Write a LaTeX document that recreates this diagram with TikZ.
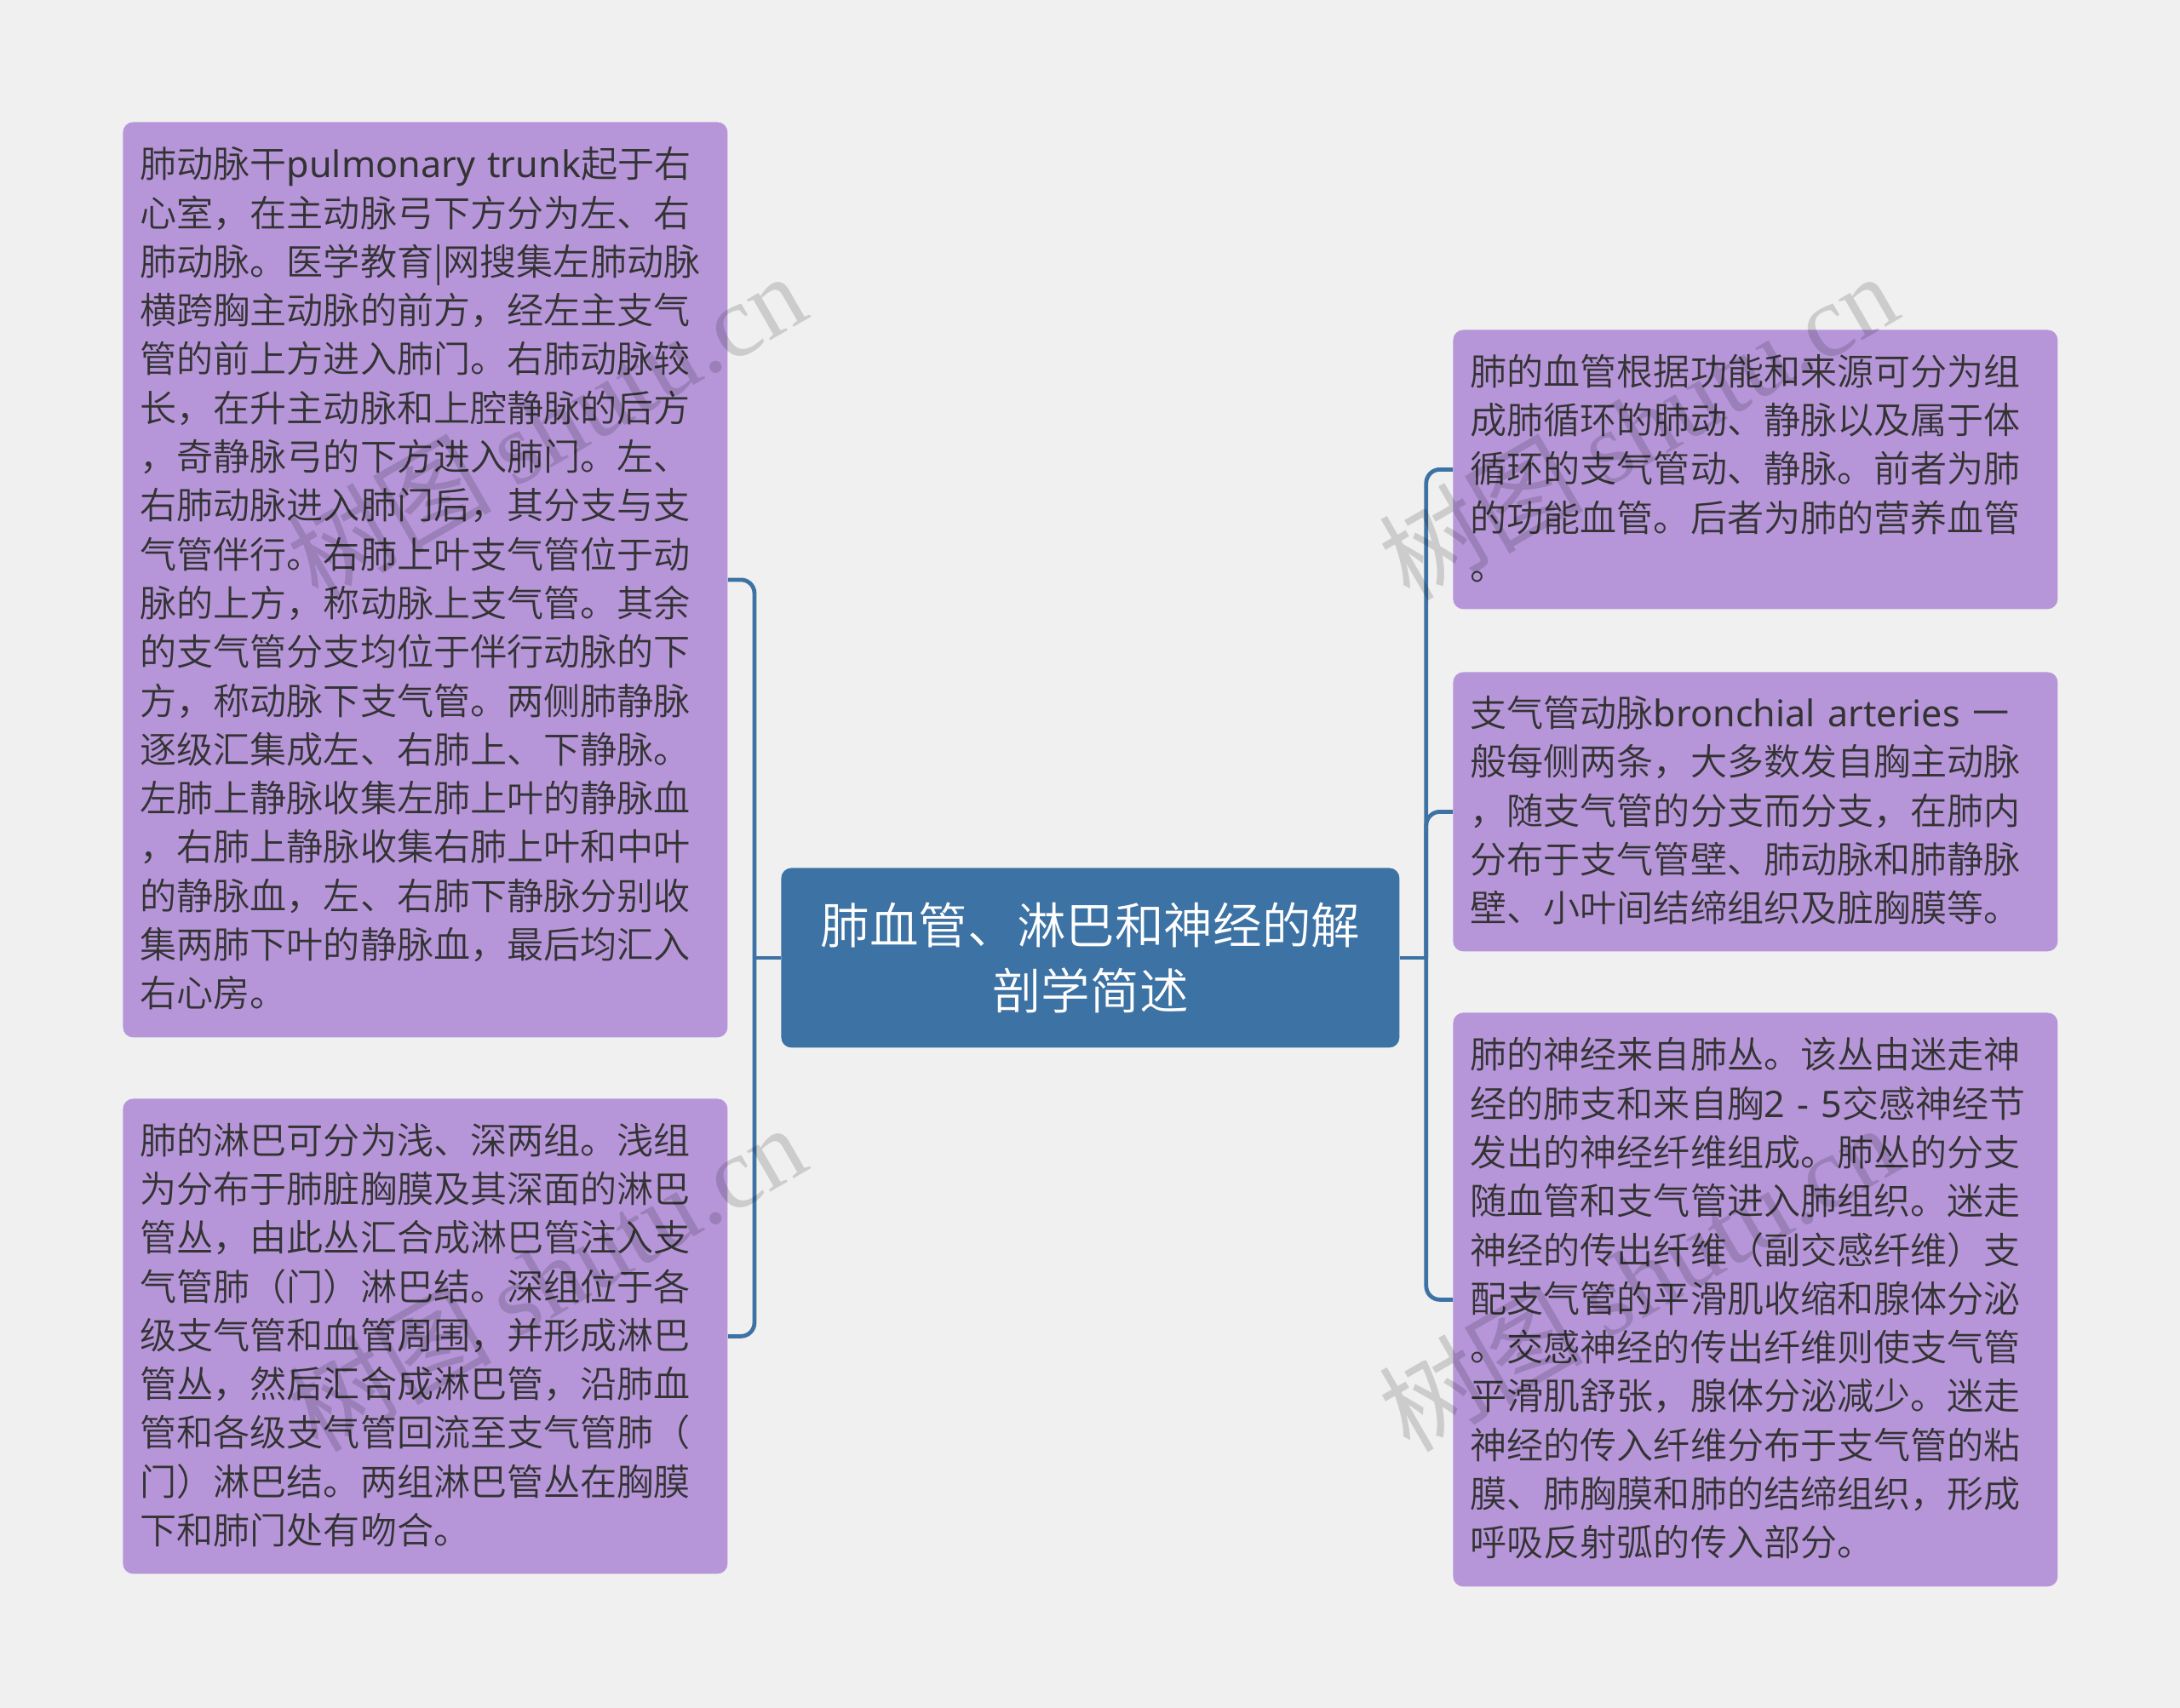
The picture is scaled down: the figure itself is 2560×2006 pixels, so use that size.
\documentclass[tikz,border=0pt]{standalone}
\usepackage{fontspec}
\setmainfont{Noto Sans CJK SC}[UprightFont={* DemiLight},BoldFont={*}]
\newfontfamily\wmfont{Noto Sans CJK SC}
\newfontfamily\wmlatin{Liberation Serif}
\newfontfamily\latf{Noto Sans}
\definecolor{bgc}{HTML}{F0F0F0}
\definecolor{leafc}{HTML}{B696D9}
\definecolor{rootc}{HTML}{3D72A4}
\definecolor{inkc}{HTML}{333333}
\tikzset{
  leaf/.style={draw=none,fill=leafc,rounded corners=6pt,anchor=north west,inner xsep=10pt,inner ysep=0pt,
    minimum width=#1*0.5pt,align=left,text width=#1*0.5pt-20pt,text=inkc,
    execute at end node={\par\vspace{1.5pt}},
    font=\fontsize{21.55pt}{28.65pt}\selectfont},
  rootbox/.style={draw=none,fill=rootc,rounded corners=6pt,anchor=north west,inner sep=0pt,
    minimum width=363pt,minimum height=105.5pt,align=center,text=white,
    font=\fontsize{28.8pt}{38.4pt}\selectfont},
  conn/.style={draw=rootc,line width=2.4pt,rounded corners=8pt},
  wm/.style={rotate=30,anchor=south west,text=black,opacity=0.15,font=\wmfont\fontsize{60pt}{60pt}\selectfont}
}
\begin{document}
\begin{tikzpicture}[x=0.5pt,y=-0.5pt]
\useasboundingbox (0,0) rectangle (2560,2006);
\fill[bgc] (0,0) rectangle (2560,2006);
\node[rootbox] (root) at (917,1019) {肺血管、淋巴和神经的解\\剖学简述};
\node[leaf=710,minimum height=537.5pt] (l1) at (144,143) {肺动脉干{\latf pulmonary trunk}起于右\\心室，在主动脉弓下方分为左、右\\肺动脉。医学教育|网搜集左肺动脉\\横跨胸主动脉的前方，经左主支气\\管的前上方进入肺门。右肺动脉较\\长，在升主动脉和上腔静脉的后方\\，奇静脉弓的下方进入肺门。左、\\右肺动脉进入肺门后，其分支与支\\气管伴行。右肺上叶支气管位于动\\脉的上方，称动脉上支气管。其余\\的支气管分支均位于伴行动脉的下\\方，称动脉下支气管。两侧肺静脉\\逐级汇集成左、右肺上、下静脉。\\左肺上静脉收集左肺上叶的静脉血\\，右肺上静脉收集右肺上叶和中叶\\的静脉血，左、右肺下静脉分别收\\集两肺下叶的静脉血，最后均汇入\\右心房。};
\node[leaf=710,minimum height=279pt] (l2) at (144,1290) {肺的淋巴可分为浅、深两组。浅组\\为分布于肺脏胸膜及其深面的淋巴\\管丛，由此丛汇合成淋巴管注入支\\气管肺（门）淋巴结。深组位于各\\级支气管和血管周围，并形成淋巴\\管丛，然后汇合成淋巴管，沿肺血\\管和各级支气管回流至支气管肺（\\门）淋巴结。两组淋巴管丛在胸膜\\下和肺门处有吻合。};
\node[leaf=710,minimum height=164pt] (r1) at (1706,387) {肺的血管根据功能和来源可分为组\\成肺循环的肺动、静脉以及属于体\\循环的支气管动、静脉。前者为肺\\的功能血管。后者为肺的营养血管\\。};
\node[leaf=710,minimum height=164pt] (r2) at (1706,789) {支气管动脉{\latf bronchial arteries }一\\般每侧两条，大多数发自胸主动脉\\，随支气管的分支而分支，在肺内\\分布于支气管壁、肺动脉和肺静脉\\壁、小叶间结缔组织及脏胸膜等。};
\node[leaf=710,minimum height=337pt] (r3) at (1706,1189) {肺的神经来自肺丛。该丛由迷走神\\经的肺支和来自胸{\latf 2 - 5}交感神经节\\发出的神经纤维组成。肺丛的分支\\随血管和支气管进入肺组织。迷走\\神经的传出纤维（副交感纤维）支\\配支气管的平滑肌收缩和腺体分泌\\。交感神经的传出纤维则使支气管\\平滑肌舒张，腺体分泌减少。迷走\\神经的传入纤维分布于支气管的粘\\膜、肺胸膜和肺的结缔组织，形成\\呼吸反射弧的传入部分。};
\coordinate (jl) at ([xshift=-15.5pt]root.west);
\coordinate (jr) at ([xshift=15.5pt]root.east);
\draw[conn] (root.west) -- (jl);
\draw[conn] (root.east) -- (jr);
\draw[conn] (jl) |- (l1.east);
\draw[conn] (jl) |- (l2.east);
\draw[conn] (jr) |- (r1.west);
\draw[conn] (jr) |- (r2.west);
\draw[conn] (jr) |- (r3.west);
\node[wm] (w1) at (376,725) {树图 {\wmlatin shutu.cn}};
\node[wm] (w2) at (1658,725) {树图 {\wmlatin shutu.cn}};
\node[wm] (w3) at (376,1725) {树图 {\wmlatin shutu.cn}};
\node[wm] (w4) at (1658,1725) {树图 {\wmlatin shutu.cn}};
\end{tikzpicture}
\end{document}
